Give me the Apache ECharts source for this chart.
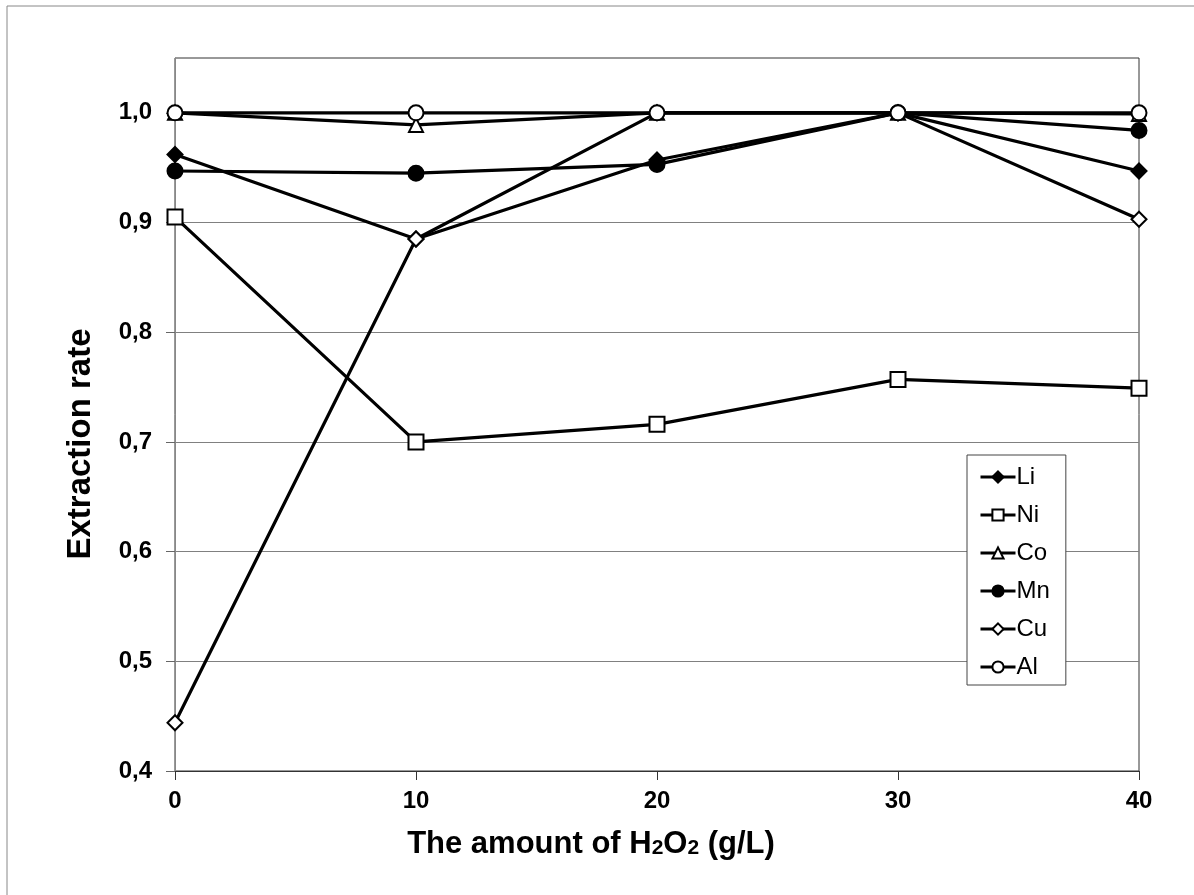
<!DOCTYPE html>
<html>
<head>
<meta charset="utf-8">
<script src="https://cdn.jsdelivr.net/npm/echarts@6/dist/echarts.min.js"></script>
<style>
html, body { margin: 0; padding: 0; background: #fff; }
#chart { width: 1194px; height: 895px; }
</style>
</head>
<body>
<div id="chart"></div>
<script>
// H2O2 amount (g/L)
var xValues = [0, 10, 20, 30, 40];
var yTicks = [0.4, 0.5, 0.6, 0.7, 0.8, 0.9, 1.0];

var liData = [0.962, 0.885, 0.957, 1.0, 0.947];
var niData = [0.905, 0.700, 0.716, 0.757, 0.749];
var coData = [1.0, 0.989, 1.0, 1.0, 0.999];
var mnData = [0.947, 0.945, 0.953, 1.0, 0.984];
var cuData = [0.444, 0.885, 1.0, 1.0, 0.903];
var alData = [1.0, 1.0, 1.0, 1.0, 1.0];

var font = '"Liberation Sans", Arial, sans-serif';

function pairs(vals) {
    var out = [];
    for (var i = 0; i < xValues.length; i++) {
        out.push([xValues[i], vals[i]]);
    }
    return out;
}

function makeSeries(name, vals, symbol, size, fill) {
    return {
        name: name,
        type: 'line',
        animation: false,
        data: pairs(vals),
        symbol: symbol,
        symbolSize: size,
        showAllSymbol: true,
        lineStyle: { color: '#000', width: 3.2 },
        itemStyle: { color: fill, borderColor: '#000', borderWidth: 2 }
    };
}

var chart = echarts.init(document.getElementById('chart'));
var option = {
    backgroundColor: '#fff',
    animation: false,
    graphic: [{
        type: 'rect',
        shape: { x: 7, y: 6, width: 1200, height: 900 },
        style: { fill: 'none', stroke: '#888', lineWidth: 1 },
        silent: true
    }, {
        // x axis title, centred on the chart like the original
        type: 'text',
        x: 591,
        y: 844,
        silent: true,
        style: {
            text: '{a|The amount of H}{s|2}{a|O}{s|2}{a| (g/L)}',
            align: 'center',
            verticalAlign: 'middle',
            rich: {
                a: { fontFamily: font, fontSize: 31, fontWeight: 'bold', fill: '#000' },
                s: { fontFamily: font, fontSize: 21, fontWeight: 'bold', fill: '#000', padding: [9, 0, 0, 0] }
            }
        }
    }, {
        type: 'text',
        x: 81,
        y: 444,
        rotation: Math.PI / 2,
        silent: true,
        style: {
            text: 'Extraction rate',
            align: 'center',
            verticalAlign: 'middle',
            fontFamily: font,
            fontSize: 33,
            fontWeight: 'bold',
            fill: '#000'
        }
    }],
    grid: {
        left: 175,
        right: 55,
        top: 58,
        bottom: 124,
        show: true,
        borderColor: '#333',
        borderWidth: 1
    },
    legend: {
        orient: 'vertical',
        left: 967,
        top: 455,
        padding: [10, 16, 6, 12],
        itemGap: 14,
        itemWidth: 35,
        itemHeight: 14,
        borderColor: '#444',
        borderWidth: 1,
        backgroundColor: '#fff',
        lineStyle: { width: 3, color: '#000' },
        textStyle: { fontFamily: font, fontSize: 24, color: '#000', padding: [0, 0, 0, -4] },
        data: ['Li', 'Ni', 'Co', 'Mn', 'Cu', 'Al']
    },
    xAxis: {
        type: 'value',
        min: 0,
        max: 40,
        interval: 10,
        axisLine: { show: true, lineStyle: { color: '#333', width: 1 } },
        axisTick: { show: true, length: 9, lineStyle: { color: '#333' } },
        splitLine: { show: false },
        axisLabel: {
            margin: 18,
            fontFamily: font,
            fontSize: 24,
            fontWeight: 'bold',
            color: '#000'
        }
    },
    yAxis: {
        type: 'value',
        min: 0.4,
        max: 1.05,
        interval: 0.1,
        axisLine: { show: true, lineStyle: { color: '#888', width: 1 } },
        axisTick: { show: true, length: 9, customValues: yTicks, lineStyle: { color: '#666' } },
        splitLine: { show: true, lineStyle: { color: '#808080', width: 1 } },
        axisLabel: {
            margin: 23,
            fontFamily: font,
            fontSize: 24,
            fontWeight: 'bold',
            color: '#000',
            customValues: yTicks,
            formatter: function (v) {
                return v.toFixed(1).replace('.', ',');
            }
        }
    },
    series: [
        makeSeries('Li', liData, 'diamond', 15, '#000'),
        makeSeries('Ni', niData, 'rect', 15, '#fff'),
        makeSeries('Co', coData, 'triangle', 14, '#fff'),
        makeSeries('Mn', mnData, 'circle', 15, '#000'),
        makeSeries('Cu', cuData, 'diamond', 15, '#fff'),
        makeSeries('Al', alData, 'circle', 15, '#fff')
    ]
};
chart.setOption(option);
</script>
</body>
</html>
